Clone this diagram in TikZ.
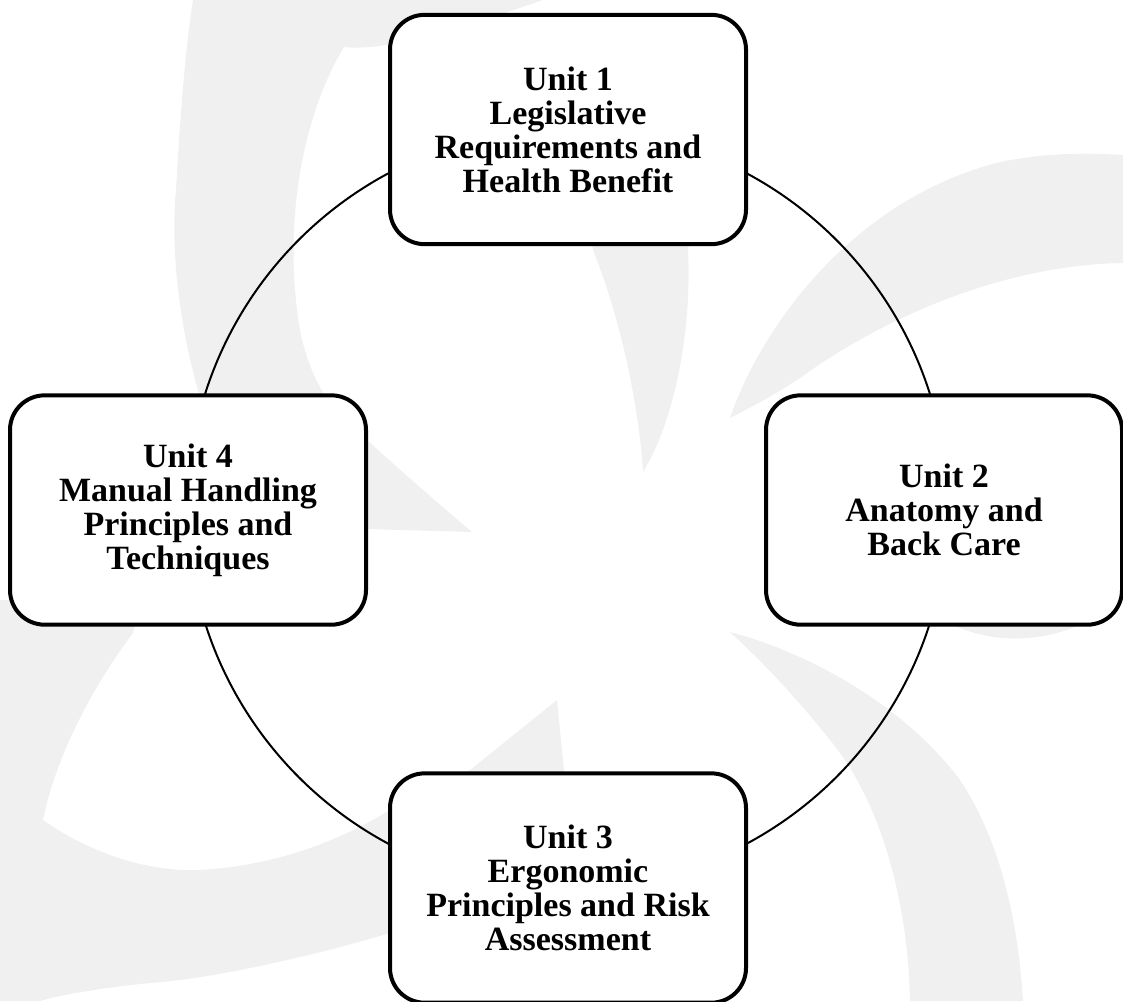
\documentclass[tikz,border=0pt]{standalone}
\usepackage{fontspec}
\setmainfont{Liberation Serif}
\definecolor{wm}{RGB}{240,240,240}
\begin{document}
\begin{tikzpicture}[x=0.75pt,y=-0.75pt,
  unitbox/.style={draw=black, line width=3pt, fill=white, rounded corners=26pt,
    minimum width=267pt, minimum height=172pt, align=center, inner sep=0pt,
    font=\bfseries\fontsize{25.5}{25.5}\selectfont},
  ring/.style={line width=1.5pt},
  blade/.style={fill=wm, draw=none}]
\useasboundingbox (0,0) rectangle (1123,1001);
\begin{scope}
\clip (0,0) rectangle (1123,1001);
% watermark blades
\path[blade] (193,0) -- (543,0) .. controls (470,25) and (390,52) .. (344,47)
  .. controls (300,120) and (283,230) .. (300,330)
  .. controls (312,390) and (340,420) .. (367,440)
  .. controls (400,470) and (440,505) .. (472,532)
  .. controls (440,531) and (400,530) .. (367,529)
  .. controls (280,500) and (215,440) .. (200,397)
  .. controls (180,330) and (170,250) .. (176,190)
  .. controls (180,120) and (185,50) .. (193,0) -- cycle;
\path[blade] (643,472) .. controls (640,420) and (625,330) .. (593,250)
  -- (585,200) -- (695,200) -- (688,250)
  .. controls (692,330) and (675,420) .. (643,472) -- cycle;
\path[blade] (730,418) .. controls (760,330) and (850,200) .. (1000,162)
  .. controls (1050,152) and (1090,153) .. (1123,155) -- (1123,263)
  .. controls (1000,265) and (880,320) .. (800,378)
  .. controls (770,398) and (745,410) .. (730,418) -- cycle;
\path[blade] (730,632) .. controls (800,650) and (900,700) .. (960,780)
  .. controls (1000,840) and (1018,920) .. (1023,1001) -- (910,1001)
  .. controls (908,900) and (880,800) .. (830,740)
  .. controls (790,690) and (760,660) .. (730,632) -- cycle;
\path[blade] (927,610) .. controls (980,648) and (1050,648) .. (1107,610) -- cycle;
\path[blade] (557,700) -- (565,780) .. controls (560,850) and (470,910) .. (390,933)
  .. controls (300,960) and (200,980) .. (150,983)
  .. controls (100,988) and (60,995) .. (40,1001) -- (0,1001) -- (0,600) -- (140,600)
  -- (133,633) .. controls (90,690) and (55,760) .. (43,820)
  .. controls (100,860) and (160,872) .. (200,870)
  .. controls (280,865) and (340,840) .. (390,810) -- (470,770) -- cycle;
% ring
\coordinate (c) at (567.5,508.5);
\draw[ring] (c) circle[radius=380];
% units
\node[unitbox] (u1) at (568,129.5) {Unit 1\\Legislative\\Requirements and\\Health Benefit};
\node[unitbox] (u2) at (944,510) {Unit 2\\Anatomy and\\Back Care};
\node[unitbox] (u3) at (568,888) {Unit 3\\Ergonomic\\Principles and Risk\\Assessment};
\node[unitbox] (u4) at (188,510) {Unit 4\\Manual Handling\\Principles and\\Techniques};
\end{scope}
\end{tikzpicture}
\end{document}
